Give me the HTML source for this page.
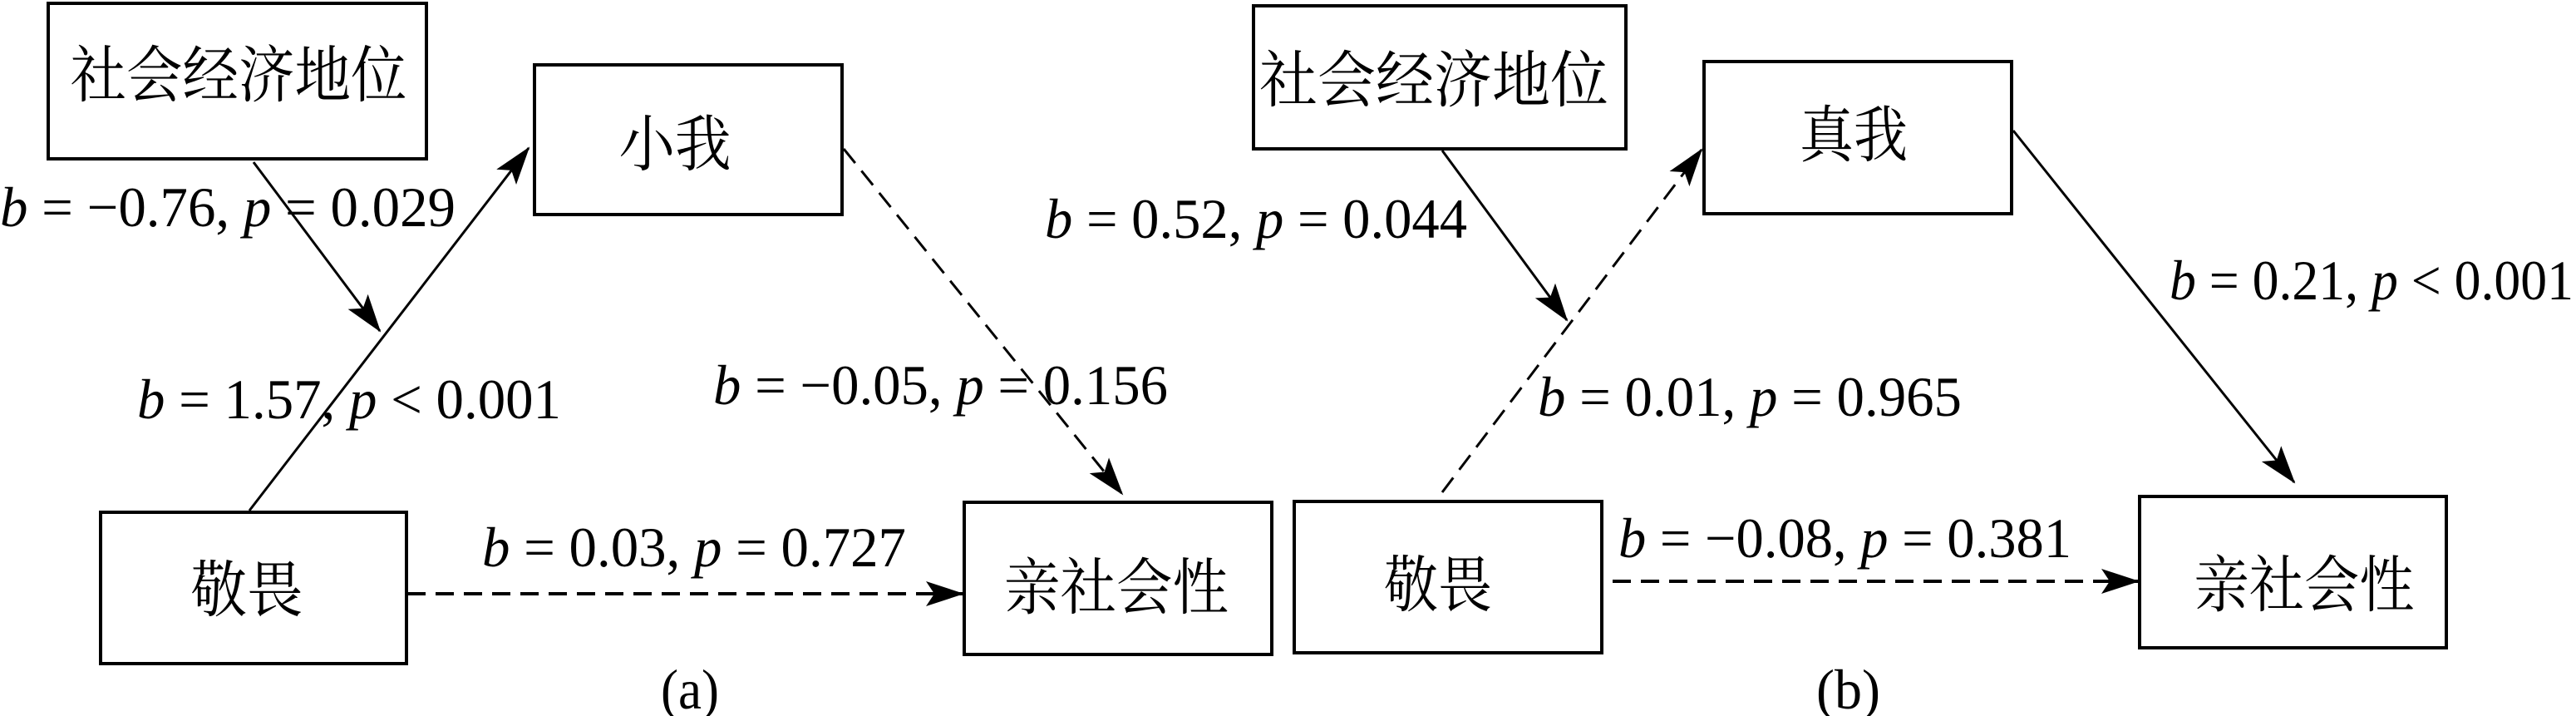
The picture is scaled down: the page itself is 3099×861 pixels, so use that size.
<!DOCTYPE html>
<html><head><meta charset="utf-8"><style>
html,body{margin:0;padding:0;background:#fff;}
svg{display:block;}
</style></head><body>
<svg width="3099" height="861" viewBox="0 0 3099 861" xmlns="http://www.w3.org/2000/svg" font-family="'Liberation Serif', 'Times New Roman', 'Noto Serif CJK SC', serif">
<defs>
<marker id="ah" markerUnits="userSpaceOnUse" markerWidth="50" markerHeight="34" refX="44" refY="15" orient="auto">
<path d="M0,0 L46,15 L0,30 L10,15 Z" fill="#000"/>
</marker>
</defs>
<g fill="none" stroke="#000" stroke-width="4">
<rect x="58" y="4" width="455" height="187"/>
<rect x="643" y="78" width="370" height="180"/>
<rect x="121" y="616" width="368" height="182"/>
<rect x="1160" y="604" width="370" height="183"/>
<rect x="1508" y="7" width="448" height="172"/>
<rect x="2050" y="74" width="370" height="183"/>
<rect x="1557" y="603" width="370" height="182"/>
<rect x="2574" y="597" width="369" height="182"/>
</g>
<g stroke="#000" stroke-width="3" fill="none">
<line x1="300" y1="614" x2="636" y2="178" marker-end="url(#ah)"/>
<line x1="305" y1="195" x2="457" y2="398" marker-end="url(#ah)"/>
<line x1="1015" y1="179" x2="1350" y2="594" stroke-dasharray="22 12" marker-end="url(#ah)"/>
<line x1="490" y1="714" x2="1158" y2="714" stroke-dasharray="22 12" stroke-width="4" marker-end="url(#ah)"/>
<line x1="1735" y1="181" x2="1885" y2="385" marker-end="url(#ah)"/>
<line x1="1735" y1="592" x2="2047" y2="180" stroke-dasharray="22 12" marker-end="url(#ah)"/>
<line x1="2422" y1="157" x2="2760" y2="580" marker-end="url(#ah)"/>
<line x1="1940" y1="699" x2="2572" y2="699" stroke-dasharray="22 12" stroke-width="4" marker-end="url(#ah)"/>
</g>
<g font-family="'Liberation Serif', 'Noto Serif CJK SC', serif" font-size="64" text-anchor="middle" fill="#000">
<text transform="translate(287,116) scale(1,1.15)" textLength="405" lengthAdjust="spacingAndGlyphs">社会经济地位</text>
<text transform="translate(812,199) scale(1,1.15)" textLength="135" lengthAdjust="spacingAndGlyphs">小我</text>
<text transform="translate(297,735) scale(1,1.15)" textLength="135" lengthAdjust="spacingAndGlyphs">敬畏</text>
<text transform="translate(1343,732) scale(1,1.15)" textLength="270" lengthAdjust="spacingAndGlyphs">亲社会性</text>
<text transform="translate(1725,122) scale(1,1.15)" textLength="420" lengthAdjust="spacingAndGlyphs">社会经济地位</text>
<text transform="translate(2230,188) scale(1,1.15)" textLength="130" lengthAdjust="spacingAndGlyphs">真我</text>
<text transform="translate(1730,729) scale(1,1.15)" textLength="130" lengthAdjust="spacingAndGlyphs">敬畏</text>
<text transform="translate(2772,729) scale(1,1.15)" textLength="265" lengthAdjust="spacingAndGlyphs">亲社会性</text>
</g>
<g font-family="'Liberation Serif', 'Times New Roman', serif" font-size="68" fill="#000">
<text font-family="'Liberation Serif', serif" x="0" y="272" textLength="548" lengthAdjust="spacingAndGlyphs"><tspan font-style="italic">b</tspan> = −0.76, <tspan font-style="italic">p</tspan> = 0.029</text>
<text font-family="'Liberation Serif', serif" x="165" y="503" textLength="510" lengthAdjust="spacingAndGlyphs"><tspan font-style="italic">b</tspan> = 1.57, <tspan font-style="italic">p</tspan> &lt; 0.001</text>
<text font-family="'Liberation Serif', serif" x="858" y="486" textLength="547" lengthAdjust="spacingAndGlyphs"><tspan font-style="italic">b</tspan> = −0.05, <tspan font-style="italic">p</tspan> = 0.156</text>
<text font-family="'Liberation Serif', serif" x="580" y="681" textLength="510" lengthAdjust="spacingAndGlyphs"><tspan font-style="italic">b</tspan> = 0.03, <tspan font-style="italic">p</tspan> = 0.727</text>
<text font-family="'Liberation Serif', serif" x="795" y="852" textLength="70" lengthAdjust="spacingAndGlyphs">(a)</text>
<text font-family="'Liberation Serif', serif" x="1257" y="286" textLength="508" lengthAdjust="spacingAndGlyphs"><tspan font-style="italic">b</tspan> = 0.52, <tspan font-style="italic">p</tspan> = 0.044</text>
<text font-family="'Liberation Serif', serif" x="2610" y="360" textLength="486" lengthAdjust="spacingAndGlyphs"><tspan font-style="italic">b</tspan> = 0.21, <tspan font-style="italic">p</tspan> &lt; 0.001</text>
<text font-family="'Liberation Serif', serif" x="1850" y="500" textLength="510" lengthAdjust="spacingAndGlyphs"><tspan font-style="italic">b</tspan> = 0.01, <tspan font-style="italic">p</tspan> = 0.965</text>
<text font-family="'Liberation Serif', serif" x="1947" y="670" textLength="545" lengthAdjust="spacingAndGlyphs"><tspan font-style="italic">b</tspan> = −0.08, <tspan font-style="italic">p</tspan> = 0.381</text>
<text font-family="'Liberation Serif', serif" x="2185" y="852" textLength="77" lengthAdjust="spacingAndGlyphs">(b)</text>
</g>
</svg>
</body></html>
